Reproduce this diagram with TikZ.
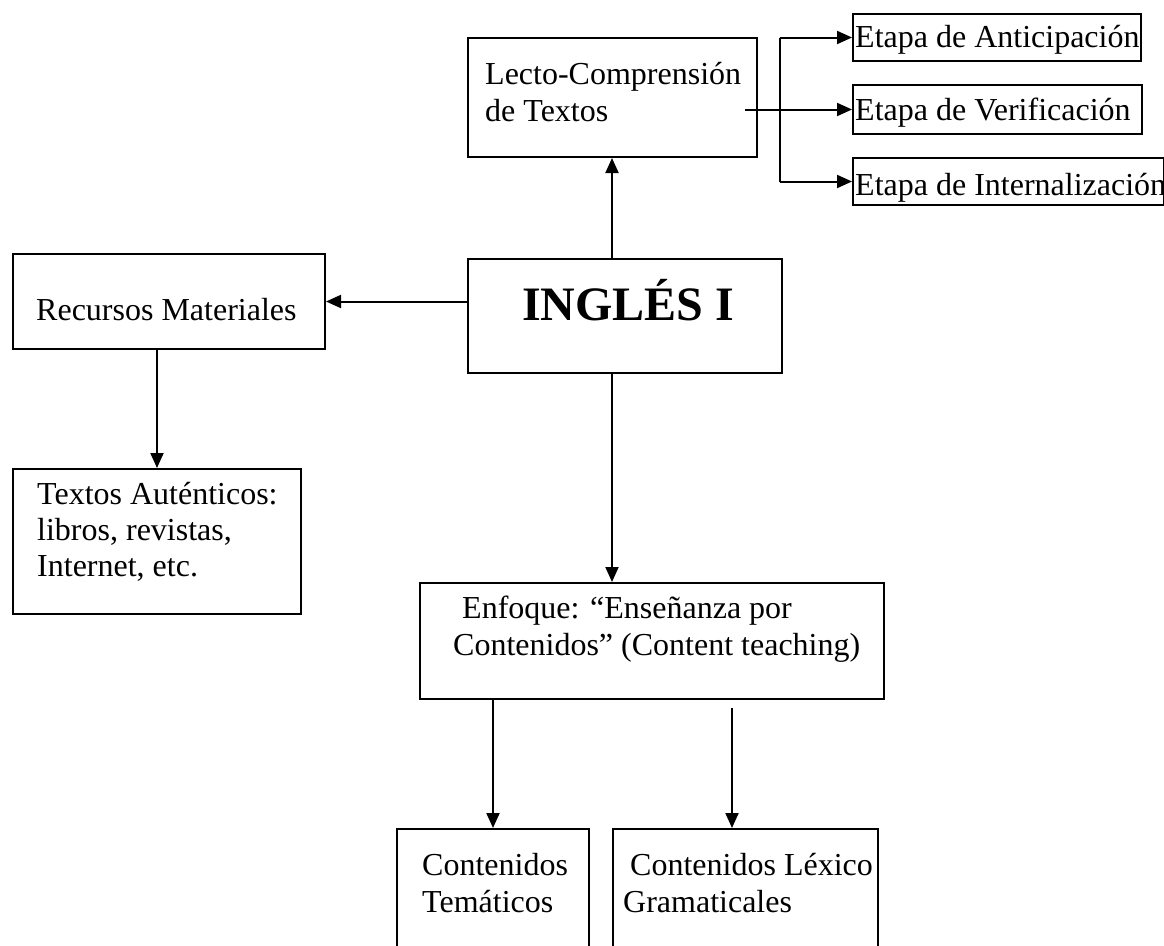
\documentclass[tikz,border=0pt]{standalone}
\usepackage{fontspec}
\setmainfont{Liberation Serif}
\usetikzlibrary{arrows.meta}
\tikzset{
  x=1pt, y=-1pt,
  box/.style={draw, line width=2pt, inner sep=0pt, anchor=north west},
  lbl/.style={anchor=base west, inner sep=0pt, font=\fontsize{32}{37}\selectfont},
  big/.style={anchor=base west, inner sep=0pt, font=\fontsize{48}{54}\selectfont\bfseries},
  arr/.style={line width=2pt, -{Triangle[length=15pt,width=13pt]}},
  ln/.style={line width=2pt}
}
\begin{document}
\begin{tikzpicture}
\useasboundingbox (0,0) rectangle (1164,945);
\clip (0,0) rectangle (1164,945);
% boxes
\node[box, minimum width=289pt, minimum height=119pt] (lecto) at (467,37) {};
\node[box, minimum width=288pt, minimum height=47pt] (ant) at (852,13) {};
\node[box, minimum width=289pt, minimum height=49pt] (ver) at (852,84) {};
\node[box, minimum width=311pt, minimum height=47pt] (inte) at (852,157) {};
\node[box, minimum width=314pt, minimum height=114pt] (ingles) at (467,258) {};
\node[box, minimum width=312pt, minimum height=95pt] (rec) at (12,253) {};
\node[box, minimum width=288pt, minimum height=145pt] (tex) at (12,468) {};
\node[box, minimum width=464pt, minimum height=116pt] (enf) at (419,582) {};
\node[box, minimum width=192pt, minimum height=140pt] (tem) at (396,828) {};
\node[box, minimum width=265pt, minimum height=140pt] (lex) at (612,828) {};
% texts
\node[lbl] (lectoA) at (485,84) {Lecto-Comprensión};
\node[lbl] (lectoB) at (485,121) {de Textos};
\node[lbl] (antT) at (855,47) {Etapa de Anticipación};
\node[lbl] (verT) at (855,120) {Etapa de Verificación};
\node[lbl] (inteT) at (855,195) {Etapa de Internalización};
\node[big] (inglesT) at (522,320) {INGLÉS I};
\node[lbl] (recT) at (36,320) {Recursos Materiales};
\node[lbl] (texA) at (37,504) {Textos Auténticos:};
\node[lbl] (texB) at (37,540) {libros, revistas,};
\node[lbl] (texC) at (37,576) {Internet, etc.};
\node[lbl] (enfA) at (462,618) {Enfoque: “Enseñanza por};
\node[lbl] (enfB) at (453,655) {Contenidos” (Content teaching)};
\node[lbl] (temA) at (422,875) {Contenidos};
\node[lbl] (temB) at (422,912) {Temáticos};
\node[lbl] (lexA) at (630,875) {Contenidos Léxico};
\node[lbl] (lexB) at (623,912) {Gramaticales};
% connectors
\coordinate (axis) at (612,0);
\coordinate (bus) at (780,0);
\coordinate (verstart) at (745,0);
\coordinate (lexarr) at (732,708);
\draw[arr] (axis |- ingles.north) -- (axis |- lecto.south);
\draw[arr] (ingles.west |- rec.east) -- (rec.east);
\draw[arr] (tex.north |- rec.south) -- (tex.north);
\draw[arr] (axis |- ingles.south) -- (axis |- enf.north);
\draw[ln] (bus |- ant.west) -- (bus |- inte.west);
\draw[arr] (bus |- ant.west) -- (ant.west);
\draw[arr] (bus |- inte.west) -- (inte.west);
\draw[arr] (verstart |- ver.west) -- (ver.west);
\draw[arr] (tem.north |- enf.south) -- (tem.north);
\draw[arr] (lexarr) -- (lexarr |- lex.north);
\end{tikzpicture}
\end{document}
